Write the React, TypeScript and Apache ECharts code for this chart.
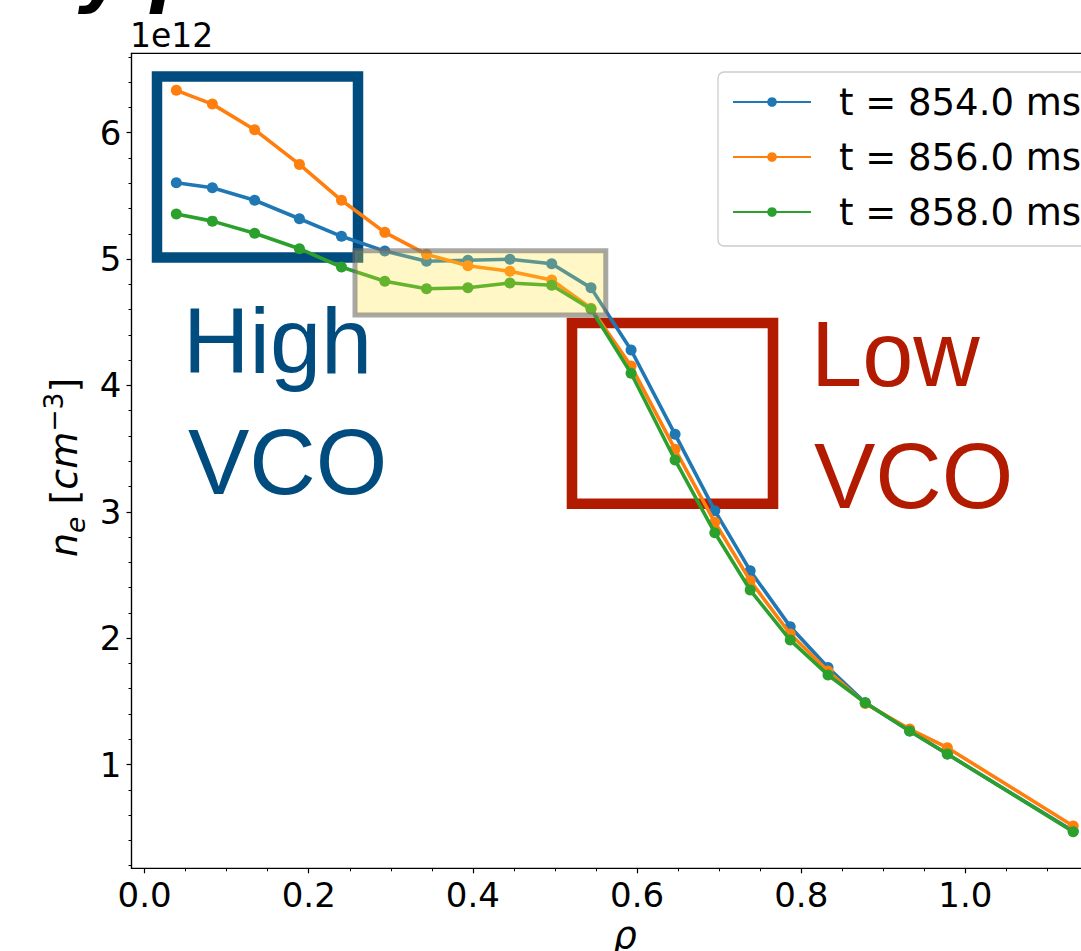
import React, { useEffect, useRef } from "react";
import * as echarts from "echarts";

// normalized radius rho
const rho = [0.0387, 0.0826, 0.1341, 0.1887, 0.2399, 0.2927, 0.3435, 0.3939, 0.4451, 0.4960, 0.5439, 0.5927, 0.6463, 0.6947, 0.7378, 0.7866, 0.8326, 0.8780, 0.9321, 0.9780, 1.1313];
// electron density, units of 1e12 cm^-3
const ne854 = [5.604, 5.564, 5.465, 5.319, 5.180, 5.063, 4.982, 4.990, 4.998, 4.963, 4.772, 4.280, 3.613, 3.009, 2.534, 2.091, 1.768, 1.489, 1.266, 1.083, 0.474];
const ne856 = [6.335, 6.226, 6.023, 5.749, 5.465, 5.211, 5.037, 4.947, 4.903, 4.834, 4.610, 4.153, 3.494, 2.917, 2.455, 2.033, 1.740, 1.483, 1.281, 1.133, 0.514];
const ne858 = [5.356, 5.300, 5.204, 5.082, 4.937, 4.824, 4.765, 4.773, 4.810, 4.792, 4.604, 4.096, 3.410, 2.834, 2.381, 1.985, 1.709, 1.489, 1.265, 1.083, 0.468];
const seriesNames = ["t = 854.0 ms", "t = 856.0 ms", "t = 858.0 ms"];
const seriesColors = ["#1f77b4", "#ff7f0e", "#2ca02c"];

const xMajorTicks = [0, 0.2, 0.4, 0.6, 0.8, 1.0];
const xMinorTicks = [0.05, 0.1, 0.15, 0.25, 0.3, 0.35, 0.45, 0.5, 0.55, 0.65, 0.7, 0.75, 0.85, 0.9, 0.95, 1.05, 1.1, 1.15];
const yMajorTicks = [1, 2, 3, 4, 5, 6];
const yMinorTicks = [0.2, 0.4, 0.6, 0.8, 1.2, 1.4, 1.6, 1.8, 2.2, 2.4, 2.6, 2.8, 3.2, 3.4, 3.6, 3.8, 4.2, 4.4, 4.6, 4.8, 5.2, 5.4, 5.6, 5.8, 6.2, 6.4, 6.6];

const X_MIN = -0.0159;
const X_MAX = 1.1859;
const Y_MIN = 0.179;
const Y_MAX = 6.628;

const BLUE = "#004c7f";
const RED = "#b31b00";
const FONT = "DejaVu Sans";

const CHART_W = 1120;
const CHART_H = 951;

export default function App() {
  const ref = useRef<HTMLDivElement>(null);

  useEffect(() => {
    if (!ref.current) return;
    const chart = echarts.init(ref.current, undefined, { renderer: "svg" });
    const datasets = [ne854, ne856, ne858];
    const F = 38;
    const S = 26.6;
    const mid = 0.346;

    const option: any = {
      animation: false,
      backgroundColor: "#ffffff",
      textStyle: { fontFamily: FONT },
      grid: {
        left: 131.5,
        top: 53.3,
        right: CHART_W - 1118,
        bottom: 82.7,
        show: true,
        borderColor: "#000",
        borderWidth: 1.2,
        backgroundColor: "transparent",
        containLabel: false,
        outerBoundsMode: "none",
      },
      xAxis: [
        {
          type: "value",
          min: X_MIN,
          max: X_MAX,
          position: "bottom",
          axisLine: { show: true, onZero: false, lineStyle: { color: "#000", width: 1.2 } },
          axisTick: { show: true, customValues: xMajorTicks, length: 5, lineStyle: { color: "#000", width: 1.2 } },
          axisLabel: {
            customValues: xMajorTicks,
            formatter: (v: number) => v.toFixed(1),
            fontSize: 34,
            color: "#000",
            fontFamily: FONT,
            margin: 10,
          },
          splitLine: { show: false },
        },
        {
          type: "value",
          min: X_MIN,
          max: X_MAX,
          position: "bottom",
          axisLine: { show: false, onZero: false },
          axisTick: { show: true, customValues: xMinorTicks, length: 3, lineStyle: { color: "#000", width: 1 } },
          axisLabel: { show: false },
          splitLine: { show: false },
        },
      ],
      yAxis: [
        {
          type: "value",
          min: Y_MIN,
          max: Y_MAX,
          position: "left",
          axisLine: { show: true, onZero: false, lineStyle: { color: "#000", width: 1.2 } },
          axisTick: { show: true, customValues: yMajorTicks, length: 5, lineStyle: { color: "#000", width: 1.2 } },
          axisLabel: {
            customValues: yMajorTicks,
            formatter: (v: number) => String(Math.round(v)),
            fontSize: 34,
            color: "#000",
            fontFamily: FONT,
            margin: 10,
          },
          splitLine: { show: false },
        },
        {
          type: "value",
          min: Y_MIN,
          max: Y_MAX,
          position: "left",
          axisLine: { show: false, onZero: false },
          axisTick: { show: true, customValues: yMinorTicks, length: 3, lineStyle: { color: "#000", width: 1 } },
          axisLabel: { show: false },
          splitLine: { show: false },
        },
      ],
      legend: {
        orient: "vertical",
        left: 718,
        top: 72,
        data: seriesNames,
        itemWidth: 78,
        itemHeight: 12,
        itemGap: 18,
        padding: [11.5, 20, 15.5, 14],
        borderColor: "#cccccc",
        borderWidth: 1.3,
        borderRadius: 6,
        backgroundColor: "rgba(255,255,255,0.85)",
        textStyle: { fontSize: 37, lineHeight: 37, fontFamily: FONT, color: "#000", padding: [0, 0, 0, 23] },
        z: 20,
      },
      series: datasets.map((d, i) => ({
        type: "line",
        name: seriesNames[i],
        data: rho.map((x, j) => [x, d[j]]),
        xAxisIndex: 0,
        yAxisIndex: 0,
        symbol: "circle",
        symbolSize: 11,
        showSymbol: true,
        lineStyle: { width: 3.6, color: seriesColors[i] },
        itemStyle: { color: seriesColors[i] },
        z: 3 + i,
      })),
      graphic: [
        // partially visible title
        {
          type: "text",
          x: 78,
          y: -1 - mid * 72,
          style: { text: "y p", fontSize: 72, fontWeight: "bold", fontStyle: "italic", fontFamily: FONT, fill: "#000", align: "left", verticalAlign: "middle" },
          z: 1,
        },
        // offset text
        {
          type: "text",
          x: 130,
          y: 46.7 - mid * 33,
          style: { text: "1e12", fontSize: 33, fontFamily: FONT, fill: "#000", align: "left", verticalAlign: "middle" },
          z: 1,
        },
        // x axis name
        {
          type: "text",
          x: 625,
          y: 948 - mid * 37,
          style: { text: "ρ", fontSize: 37, fontStyle: "italic", fontFamily: FONT, fill: "#000", align: "center", verticalAlign: "middle" },
          z: 1,
        },
        // y axis name n_e [cm^-3]
        {
          type: "group",
          x: 77,
          y: 557,
          rotation: Math.PI / 2,
          z: 1,
          children: [
            { type: "text", x: 0, y: -mid * F, style: { text: "n", fontSize: F, fontStyle: "italic", fontFamily: FONT, fill: "#000", align: "left", verticalAlign: "middle" } },
            { type: "text", x: 24.1, y: 8 - mid * S, style: { text: "e", fontSize: S, fontStyle: "italic", fontFamily: FONT, fill: "#000", align: "left", verticalAlign: "middle" } },
            { type: "text", x: 52.5, y: -mid * F, style: { text: "[", fontSize: F, fontFamily: FONT, fill: "#000", align: "left", verticalAlign: "middle" } },
            { type: "text", x: 67.3, y: -mid * F, style: { text: "cm", fontSize: F, fontStyle: "italic", fontFamily: FONT, fill: "#000", align: "left", verticalAlign: "middle" } },
            { type: "text", x: 125.2, y: -14 - mid * S, style: { text: "−3", fontSize: S, fontFamily: FONT, fill: "#000", align: "left", verticalAlign: "middle" } },
            { type: "text", x: 164.4, y: -mid * F, style: { text: "]", fontSize: F, fontFamily: FONT, fill: "#000", align: "left", verticalAlign: "middle" } },
          ],
        },
        // annotation boxes
        {
          type: "rect",
          shape: { x: 157, y: 76.4, width: 201, height: 181 },
          style: { fill: "none", stroke: BLUE, lineWidth: 10.5 },
          z: 1,
        },
        {
          type: "rect",
          shape: { x: 572, y: 323, width: 201, height: 180.8 },
          style: { fill: "none", stroke: RED, lineWidth: 10.6 },
          z: 1,
        },
        {
          type: "rect",
          shape: { x: 355, y: 250.8, width: 250.8, height: 64.2 },
          style: { fill: "rgba(255,230,50,0.28)", stroke: "rgba(110,110,110,0.6)", lineWidth: 5 },
          z: 10,
        },
        // annotation texts
        {
          type: "text",
          x: 183,
          y: 373 - mid * 92,
          style: { text: "High", fontSize: 92, fontFamily: "Liberation Sans", fill: BLUE, align: "left", verticalAlign: "middle" },
          z: 10,
        },
        {
          type: "text",
          x: 188,
          y: 494 - mid * 92,
          style: { text: "VCO", fontSize: 92, fontFamily: "Liberation Sans", fill: BLUE, align: "left", verticalAlign: "middle" },
          z: 10,
        },
        {
          type: "text",
          x: 811,
          y: 386 - mid * 92,
          style: { text: "Low", fontSize: 92, fontFamily: "Liberation Sans", fill: RED, align: "left", verticalAlign: "middle" },
          z: 10,
        },
        {
          type: "text",
          x: 814,
          y: 508 - mid * 92,
          style: { text: "VCO", fontSize: 92, fontFamily: "Liberation Sans", fill: RED, align: "left", verticalAlign: "middle" },
          z: 10,
        },
      ],
    };

    chart.setOption(option);
    return () => {
      chart.dispose();
    };
  }, []);

  return (
    <div style={{ position: "absolute", left: 0, top: 0, width: 1081, height: 951, overflow: "hidden", background: "#fff" }}>
      <div ref={ref} style={{ width: CHART_W, height: CHART_H }} />
    </div>
  );
}
